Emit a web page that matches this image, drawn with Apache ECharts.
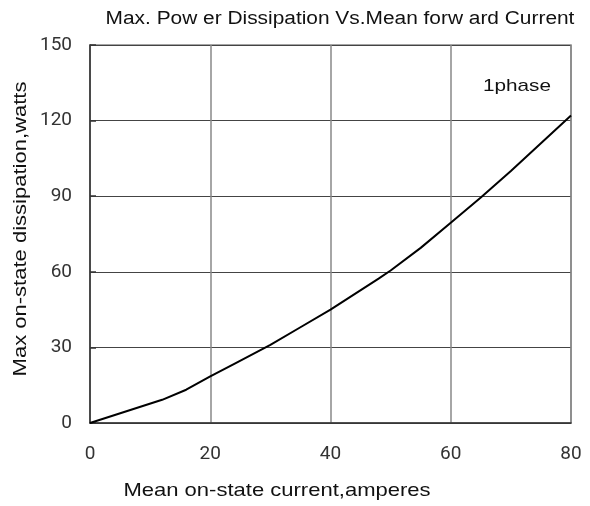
<!DOCTYPE html>
<html><head><meta charset="utf-8">
<script src="https://cdn.jsdelivr.net/npm/echarts@6/dist/echarts.min.js"></script>
<style>html,body{margin:0;padding:0;background:#fff}#c{width:590px;height:506px}</style>
</head><body><div id="c"></div>
<script>
var currentA = [0, 12, 16, 20, 24, 30, 35, 40, 48, 50, 55, 60, 65, 70, 75, 80];
var powerW   = [0, 9.2, 13.2, 18.5, 23.5, 31, 38, 45, 57.3, 60.5, 69.5, 79.5, 89.5, 100, 111, 122];
var xTicks = [0, 20, 40, 60, 80];
var yTicks = [0, 30, 60, 90, 120, 150];
var titleText = 'Max. Pow er Dissipation Vs.Mean forw ard Current';
var xName = 'Mean on-state current,amperes';
var yName = 'Max on-state dissipation,watts';
var noteText = '1phase';

var chart = echarts.init(document.getElementById('c'), null, {renderer: 'canvas'});
var font = 'Liberation Sans, Arial, sans-serif';
var tickFont = 'Roboto, sans-serif';
function txt(text, x, y, size, sx, rot) {
  return {type: 'text', x: x, y: y, scaleX: sx, rotation: rot || 0, silent: true,
    style: {text: text, fontFamily: font, fontSize: size, fill: '#111',
      align: 'center', verticalAlign: 'middle', textAlign: 'center', textVerticalAlign: 'middle'}};
}
chart.setOption({
  animation: false,
  backgroundColor: '#fff',
  grid: {left: 90, right: 19, top: 45, bottom: 83, show: true, borderColor: '#888', borderWidth: 1.5},
  xAxis: {type: 'value', min: xTicks[0], max: xTicks[xTicks.length-1], interval: 20,
    axisLine: {show: true, lineStyle: {color: '#333', width: 1.5}},
    axisTick: {show: false},
    axisLabel: {fontFamily: tickFont, fontSize: 19, color: '#333', margin: 22},
    splitLine: {show: true, lineStyle: {color: '#888', width: 1.5}}},
  yAxis: {type: 'value', min: yTicks[0], max: yTicks[yTicks.length-1], interval: 30,
    axisLine: {show: true, lineStyle: {color: '#333', width: 1.5}},
    axisTick: {show: true, inside: true, length: 6, lineStyle: {color: '#333', width: 1.5}},
    axisLabel: {fontFamily: tickFont, fontSize: 19, color: '#333', margin: 18},
    splitLine: {show: true, lineStyle: {color: '#444', width: 1}}},
  graphic: [
    txt(titleText, 340, 19, 18, 1.16),
    txt(xName, 277, 491, 18.5, 1.19),
    txt(yName, 21, 229, 18.5, 1.19, Math.PI / 2),
    txt(noteText, 517, 86, 17, 1.22)
  ],
  series: [{type: 'line', data: currentA.map(function(x, i){return [x, powerW[i]];}),
    showSymbol: false, smooth: false, lineStyle: {color: '#000', width: 2}}]
});
</script></body></html>
